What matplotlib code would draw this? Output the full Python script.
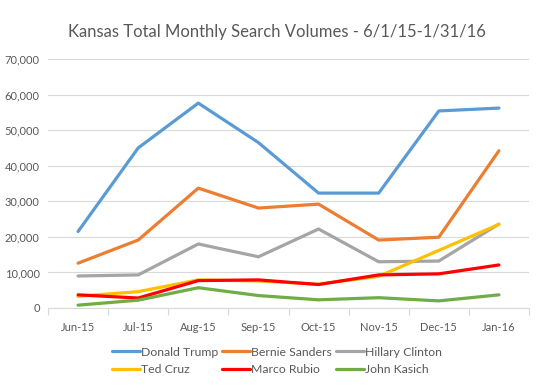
import matplotlib
matplotlib.use("Agg")
import matplotlib.pyplot as plt
from matplotlib.ticker import FuncFormatter, MultipleLocator
import numpy as np

months = ["Jun-15", "Jul-15", "Aug-15", "Sep-15", "Oct-15", "Nov-15", "Dec-15", "Jan-16"]
trump = [21500, 45000, 57600, 46500, 32300, 32300, 55400, 56200]
sanders = [12600, 19100, 33700, 28100, 29200, 19100, 19900, 44200]
clinton = [9000, 9300, 18000, 14400, 22200, 13000, 13200, 23600]
cruz = [3300, 4600, 7900, 7600, 6700, 8900, 16200, 23500]
rubio = [3700, 2800, 7700, 7900, 6600, 9300, 9600, 12100]
kasich = [800, 2200, 5700, 3500, 2300, 2900, 2000, 3700]

series = [
    ("Donald Trump", trump, "#5B9BD5"),
    ("Bernie Sanders", sanders, "#ED7D31"),
    ("Hillary Clinton", clinton, "#A5A5A5"),
    ("Ted Cruz", cruz, "#FFC000"),
    ("Marco Rubio", rubio, "#FF0000"),
    ("John Kasich", kasich, "#70AD47"),
]

plt.rcParams['font.family'] = ['Lato', 'DejaVu Sans']
fig = plt.figure(figsize=(5.54, 3.92), dpi=100)
ax = fig.add_axes([48/554, 1-308/392, (529-48)/554, (308-59)/392])

x = np.arange(len(months))
handles = []
for name, vals, c in series:
    h, = ax.plot(x, vals, color=c, lw=2.3, label=name, solid_capstyle='round', solid_joinstyle='round')
    handles.append(h)

ax.set_xlim(-0.5, len(months)-0.5)
ax.set_ylim(0, 70000)
ax.yaxis.set_major_locator(MultipleLocator(10000))
ax.yaxis.set_major_formatter(FuncFormatter(lambda v, p: f"{int(v):,}"))
ax.grid(axis='y', color='#D9D9D9', lw=0.8)
ax.set_axisbelow(True)
for s in ['top', 'right', 'left']:
    ax.spines[s].set_visible(False)
ax.spines['bottom'].set_color('#D9D9D9')
ax.spines['bottom'].set_linewidth(0.8)
ax.set_xticks(x)
ax.set_xticklabels(months)
ax.set_xticks(np.arange(-0.5, len(months), 1), minor=True)
ax.tick_params(axis='x', which='major', length=0, labelsize=8, labelcolor='#595959', pad=10)
ax.tick_params(axis='x', which='minor', length=5, color='#D9D9D9', width=0.8)
ax.tick_params(axis='y', length=0, labelsize=8, labelcolor='#595959', pad=6)

fig.text(0.5, 1-32/392, "Kansas Total Monthly Search Volumes - 6/1/15-1/31/16",
         ha='center', va='center', fontsize=12, color='#595959')

order = [0, 3, 1, 4, 2, 5]
leg = fig.legend([handles[i] for i in order], [series[i][0] for i in order],
                 loc='center', bbox_to_anchor=(0.5, 1-361/392), ncol=3, frameon=False,
                 fontsize=8.8, labelcolor='#595959', handlelength=2.3, handletextpad=0.1,
                 columnspacing=0.3, labelspacing=0.55)

fig.savefig("out.png", dpi=100)
